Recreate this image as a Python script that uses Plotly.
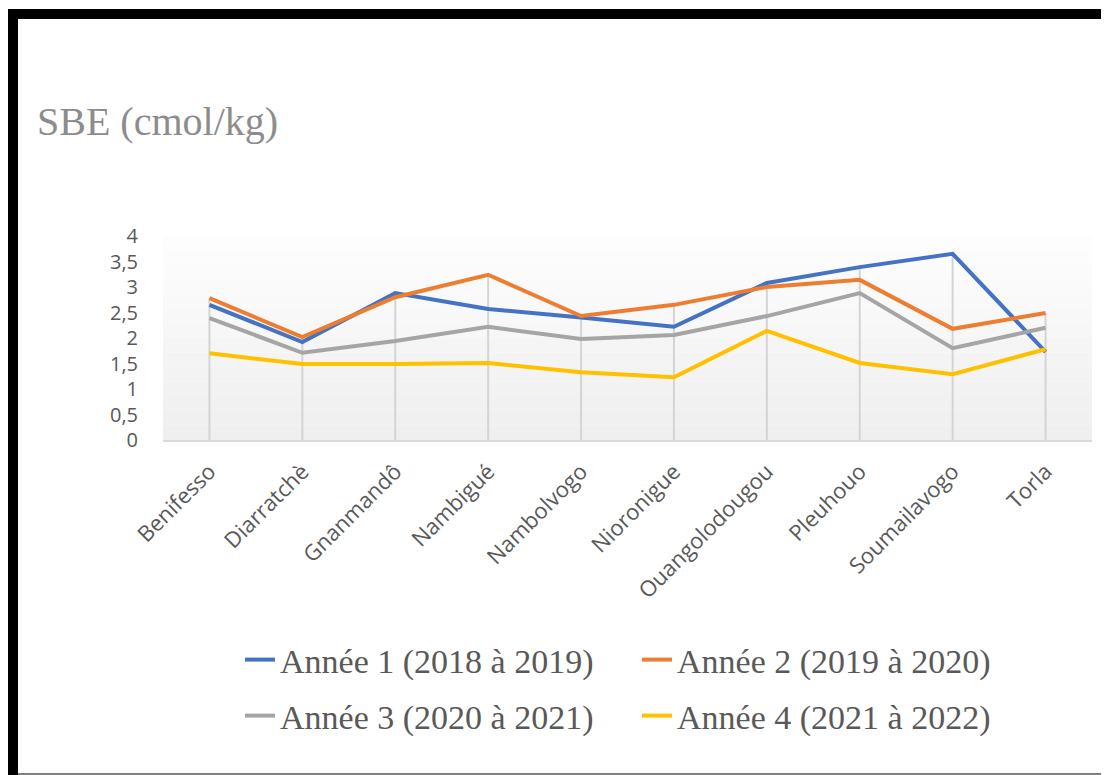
import plotly.graph_objects as go

# data
sites = ['Benifesso', 'Diarratchè', 'Gnanmandô', 'Nambigué', 'Nambolvogo',
         'Nioronigue', 'Ouangolodougou', 'Pleuhouo', 'Soumailavogo', 'Torla']
annee_1 = [2.65, 1.92, 2.88, 2.57, 2.40, 2.22, 3.08, 3.39, 3.65, 1.73]
annee_2 = [2.78, 2.02, 2.80, 3.24, 2.43, 2.65, 3.00, 3.14, 2.18, 2.49]
annee_3 = [2.39, 1.71, 1.94, 2.22, 1.98, 2.06, 2.43, 2.88, 1.80, 2.20]
annee_4 = [1.70, 1.49, 1.49, 1.51, 1.33, 1.23, 2.14, 1.51, 1.29, 1.78]
series_names = ['Année 1 (2018 à 2019)', 'Année 2 (2019 à 2020)',
                'Année 3 (2020 à 2021)', 'Année 4 (2021 à 2022)']
colors = ['#4472C4', '#ED7D31', '#A5A5A5', '#FFC000']
y_ticks = [0, 0.5, 1, 1.5, 2, 2.5, 3, 3.5, 4]

# page has an 8px body margin, so the figure is a bit smaller than the window
W, H = 1101, 767
L, R, T, B = 155, 17, 228, 335
PW, PH = W - L - R, H - T - B


# helpers: picture pixel -> paper coords
def px_x(px):
    return (px - 8 - L) / PW


def px_y(py):
    return (H - B - (py - 8)) / PH


fig = go.Figure()

# drop lines from the highest series down to the axis
drop_x, drop_y = [], []
for i, s in enumerate(sites):
    top = max(annee_1[i], annee_2[i], annee_3[i], annee_4[i])
    drop_x += [s, s, None]
    drop_y += [0, top, None]
fig.add_trace(go.Scatter(x=drop_x, y=drop_y, mode='lines', showlegend=False,
                         hoverinfo='skip', line=dict(color='#d4d4d4', width=2)))

for k, (name, vals, col) in enumerate(zip(series_names, [annee_1, annee_2, annee_3, annee_4], colors)):
    fig.add_trace(go.Scatter(x=sites, y=vals, mode='lines', name=name,
                             legend='legend' if k < 2 else 'legend2',
                             line=dict(color=col, width=4)))

# gradient-ish plot background (white at top to light grey at bottom)
shapes = []
n_bands = 14
for k in range(n_bands):
    g = int(255 - (255 - 239) * (k + 1) / n_bands)
    shapes.append(dict(type='rect', xref='paper', yref='paper', layer='below',
                       x0=0, x1=1, y0=1 - (k + 1) / n_bands, y1=1 - k / n_bands,
                       fillcolor=f'rgb({g},{g},{g})', line=dict(width=0)))
# black frame around the picture
shapes.append(dict(type='rect', xref='paper', yref='paper',
                   x0=px_x(13), x1=px_x(1111), y0=px_y(14), y1=px_y(800),
                   line=dict(color='black', width=10)))
shapes.append(dict(type='line', xref='paper', yref='paper',
                   x0=px_x(18), x1=px_x(1106), y0=px_y(774), y1=px_y(774),
                   line=dict(color='#808080', width=2)))

leg_font = dict(family='Liberation Serif', size=34, color='#595959')
leg_common = dict(orientation='h', xanchor='left', yanchor='middle', font=leg_font,
                  bgcolor='rgba(0,0,0,0)', itemwidth=30,
                  entrywidth=352, entrywidthmode='pixels')

fig.update_layout(
    width=W, height=H,
    margin=dict(l=L, r=R, t=T, b=B),
    paper_bgcolor='white', plot_bgcolor='white',
    separators=', ',
    shapes=shapes,
    annotations=[dict(text='SBE (cmol/kg)', xref='paper', yref='paper',
                      x=px_x(35), y=px_y(121), xanchor='left', yanchor='middle',
                      showarrow=False,
                      font=dict(family='Liberation Serif', size=40, color='#8c8c8c'))],
    xaxis=dict(range=[-0.5, len(sites) - 0.5], showgrid=False, tickangle=-45,
               showline=True, linecolor='#d9d9d9', linewidth=2, ticks='',
               ticklabelstandoff=8,
               tickfont=dict(family='Open Sans', size=22, color='#595959')),
    yaxis=dict(range=[0, 4], tickvals=y_ticks, showgrid=False, zeroline=False,
               showline=False, ticklabelstandoff=24,
               tickfont=dict(family='Open Sans', size=20, color='#595959')),
    legend=dict(x=px_x(240), y=px_y(660), **leg_common),
    legend2=dict(x=px_x(240), y=px_y(716), **leg_common),
)

fig.write_html("out.html")
